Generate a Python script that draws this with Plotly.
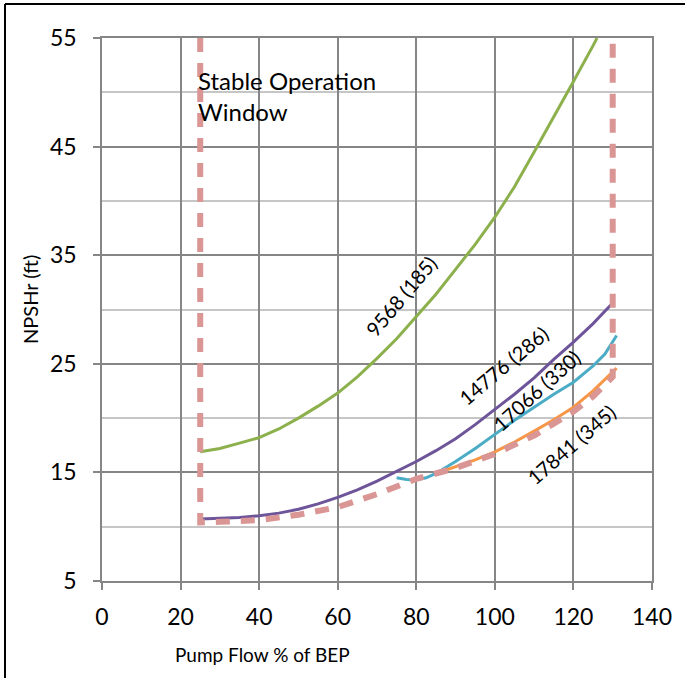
import plotly.graph_objects as go

# ---- data ----
x_green = [25, 30, 35, 40, 45, 50, 55, 60, 65, 70, 75, 80, 85, 90, 95, 100, 105, 110, 115, 120, 125, 126]
y_green = [16.9, 17.2, 17.7, 18.2, 19.0, 20.0, 21.1, 22.3, 23.8, 25.5, 27.3, 29.3, 31.4, 33.7, 36.0, 38.5, 41.3, 44.5, 47.7, 51.0, 54.3, 55.0]

x_purple = [25, 30, 35, 40, 45, 50, 55, 60, 65, 70, 75, 80, 85, 90, 95, 100, 105, 110, 115, 120, 125, 130]
y_purple = [10.7, 10.75, 10.85, 11.0, 11.25, 11.6, 12.1, 12.7, 13.4, 14.2, 15.1, 16.0, 17.0, 18.1, 19.4, 20.8, 22.2, 23.7, 25.4, 27.0, 28.7, 30.6]

x_cyan = [75, 77.5, 80, 82.5, 85, 90, 95, 100, 105, 110, 115, 120, 125, 128, 131]
y_cyan = [14.5, 14.35, 14.3, 14.5, 14.9, 16.0, 17.2, 18.5, 19.8, 21.0, 22.2, 23.3, 24.8, 25.9, 27.6]

x_orange = [85, 90, 95, 100, 105, 110, 115, 120, 125, 131]
y_orange = [14.9, 15.5, 16.15, 16.9, 17.8, 18.8, 19.85, 21.0, 22.5, 24.6]

x_window = [25, 25, 30, 40, 50, 60, 70, 80, 90, 100, 110, 120, 125, 130, 130]
y_window = [55, 10.4, 10.45, 10.6, 11.1, 11.8, 13.0, 14.4, 15.4, 16.7, 18.4, 20.6, 22.0, 23.8, 55]

series_labels = ["9568 (185)", "14776 (286)", "17066 (330)", "17841 (345)"]
label_x = [76.2, 102.3, 110.7, 119.6]
label_y = [31.2, 24.9, 22.6, 17.6]
label_angle = [-50, -40, -42, -41]

x_ticks = [0, 20, 40, 60, 80, 100, 120, 140]
y_ticks = [5, 15, 25, 35, 45, 55]

FONT = "Lato"
MAJOR = "#868686"
MINOR = "#C6C6C6"

fig = go.Figure()
fig.add_trace(go.Scatter(x=x_green, y=y_green, mode="lines",
                         line=dict(color="#8CB04C", width=3), showlegend=False))
fig.add_trace(go.Scatter(x=x_purple, y=y_purple, mode="lines",
                         line=dict(color="#6E559A", width=3), showlegend=False))
fig.add_trace(go.Scatter(x=x_cyan, y=y_cyan, mode="lines",
                         line=dict(color="#4BACC6", width=3), showlegend=False))
fig.add_trace(go.Scatter(x=x_orange, y=y_orange, mode="lines",
                         line=dict(color="#F79646", width=3), showlegend=False))
fig.add_trace(go.Scatter(x=x_window, y=y_window, mode="lines",
                         line=dict(color="#D99694", width=6, dash="14px,11px"),
                         showlegend=False))

for t, xx, yy, ang in zip(series_labels, label_x, label_y, label_angle):
    fig.add_annotation(x=xx, y=yy, text=t, textangle=ang, showarrow=False,
                       xanchor="center", yanchor="middle",
                       font=dict(family=FONT, size=20, color="black"))

fig.add_annotation(x=24.0, y=52.6, text="Stable Operation<br>Window", showarrow=False,
                   xanchor="left", yanchor="top", align="left",
                   font=dict(family=FONT, size=24, color="black"))

# axis titles
fig.add_annotation(xref="paper", yref="paper", x=(262 - 102) / 550, y=(581 - 654) / 543,
                   xanchor="center", yanchor="middle",
                   text="Pump Flow % of BEP", showarrow=False,
                   font=dict(family=FONT, size=19, color="black"))
fig.add_annotation(xref="paper", yref="paper", x=(30 - 102) / 550, y=(581 - 300) / 543,
                   xanchor="center", yanchor="middle",
                   text="NPSHr (ft)", textangle=-90, showarrow=False,
                   font=dict(family=FONT, size=20, color="black"))

# outer border (left and top) of the cropped chart
fig.add_shape(type="line", xref="paper", yref="paper",
              x0=(5 - 102) / 550, x1=(5 - 102) / 550, y0=(581 - 4) / 543, y1=(581 - 680) / 543,
              line=dict(color="black", width=2))
fig.add_shape(type="line", xref="paper", yref="paper",
              x0=(5 - 102) / 550, x1=(690 - 102) / 550, y0=(581 - 4) / 543, y1=(581 - 4) / 543,
              line=dict(color="black", width=2))

fig.update_xaxes(range=[0, 140], tickvals=x_ticks, showgrid=True, gridcolor=MAJOR, gridwidth=1.5,
                 showline=True, linecolor=MAJOR, linewidth=1.5, mirror=True,
                 ticks="outside", ticklen=7, tickcolor=MAJOR, tickwidth=1.5, ticklabelstandoff=8,
                 tickfont=dict(family=FONT, size=23, color="black"), zeroline=False)
fig.update_yaxes(range=[5, 55], tickvals=y_ticks, showgrid=True, gridcolor=MAJOR, gridwidth=1.5,
                 showline=True, linecolor=MAJOR, linewidth=1.5, mirror=True,
                 ticks="outside", ticklen=7, tickcolor=MAJOR, tickwidth=1.5, ticklabelstandoff=12,
                 tickfont=dict(family=FONT, size=23, color="black"), zeroline=False,
                 minor=dict(dtick=5, tick0=0, showgrid=True, gridcolor=MINOR, gridwidth=1.5, ticks=""))

fig.update_layout(width=685, height=678, margin=dict(l=102, r=33, t=38, b=97),
                  paper_bgcolor="white", plot_bgcolor="white",
                  font=dict(family=FONT, color="black"))

fig.write_html("out.html", config={"displayModeBar": False},
               post_script="document.body.style.margin='0';")
